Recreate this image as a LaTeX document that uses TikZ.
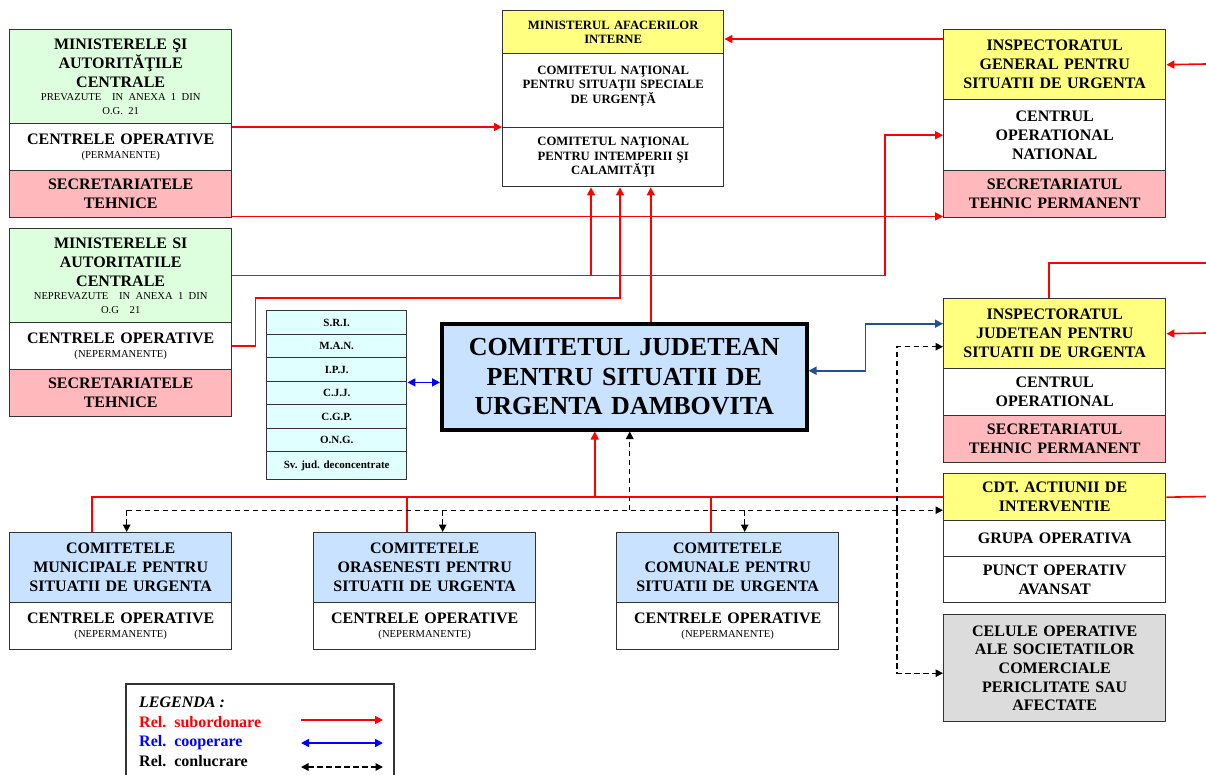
\documentclass[tikz,border=0pt]{standalone}
\usepackage{fontspec}
\setmainfont{Liberation Serif}
\usetikzlibrary{arrows.meta}
\setlength{\parindent}{0pt}
\frenchspacing
\definecolor{grn}{HTML}{DEFFDE}
\definecolor{pnk}{HTML}{FFB9BC}
\definecolor{ylw}{HTML}{FFFF80}
\definecolor{lbl}{HTML}{C8E2FF}
\definecolor{cyn}{HTML}{E0FFFF}
\definecolor{gry}{HTML}{DCDCDC}
\definecolor{dkblue}{HTML}{23508F}
\newcommand{\subnote}[1]{\par{\normalfont\fontsize{10.6}{13.5}\selectfont #1\par}}

\begin{document}
\begin{tikzpicture}[x=1pt,y=-1pt,
    >={Triangle[length=8pt,width=8pt]},
    cell/.style={draw=black!80, line width=1.4pt, anchor=north west, inner sep=0pt,
      align=center, text width=212pt, minimum width=222pt,
      font=\bfseries\fontsize{16}{19}\selectfont},
    smallcell/.style={cell, font=\bfseries\fontsize{12.7}{14.5}\selectfont, minimum width=221pt},
    listcell/.style={cell, fill=cyn, text width=134pt, minimum width=140pt,
      font=\bfseries\fontsize{11}{13}\selectfont},
    rel/.style={draw=red, line width=1.6pt},
    sub/.style={rel, ->},
    coop/.style={draw=blue, line width=1.6pt, <->},
    conl/.style={draw=black, line width=1.4pt, dash pattern=on 5.5pt off 3.5pt,
      >={Triangle[length=7.5pt,width=7.5pt]}}]
  \useasboundingbox (0,0) rectangle (1206,775);

  % left column
  \node[cell, fill=grn, minimum height=94pt] (minA) at (9,29)
    {MINISTERELE ŞI\\ AUTORITĂŢILE\\ CENTRALE\subnote{PREVAZUTE\ \ IN ANEXA 1 DIN\\ O.G. 21}};
  \node[cell, fill=white, minimum height=47pt] (copA) at (9,123)
    {CENTRELE OPERATIVE\subnote{(PERMANENTE)}};
  \node[cell, fill=pnk, minimum height=47pt] (secA) at (9,170) {SECRETARIATELE\\ TEHNICE};

  \node[cell, fill=grn, minimum height=94pt] (minB) at (9,228)
    {MINISTERELE SI\\ AUTORITATILE\\ CENTRALE\subnote{NEPREVAZUTE\ \ IN ANEXA 1 DIN\\ O.G\ \ 21}};
  \node[cell, fill=white, minimum height=47pt] (copB) at (9,322)
    {CENTRELE OPERATIVE\subnote{(NEPERMANENTE)}};
  \node[cell, fill=pnk, minimum height=47pt] (secB) at (9,369) {SECRETARIATELE\\ TEHNICE};

  % ministerul
  \node[smallcell, fill=ylw, minimum height=43pt] (mai) at (502,10) {MINISTERUL AFACERILOR\\ INTERNE};
  \node[smallcell, fill=white, minimum height=74pt] (cnsu) at (502,53)
    {COMITETUL NAŢIONAL\\ PENTRU SITUAŢII SPECIALE\\ DE URGENŢĂ\par\vspace{10pt}\hrule height0pt width0pt};
  \node[smallcell, fill=white, minimum height=59pt] (cnic) at (502,127)
    {COMITETUL NAŢIONAL\\ PENTRU INTEMPERII ŞI\\ CALAMITĂŢI};

  % inspectoratul general
  \node[cell, fill=ylw, minimum height=70pt] (igsu) at (943,29) {INSPECTORATUL\\ GENERAL PENTRU\\ SITUATII DE URGENTA};
  \node[cell, fill=white, minimum height=71pt] (con) at (943,99) {CENTRUL\\ OPERATIONAL\\ NATIONAL};
  \node[cell, fill=pnk, minimum height=47pt] (stpD) at (943,170) {SECRETARIATUL\\ TEHNIC PERMANENT};

  % servicii
  \node[listcell, minimum height=24pt] (sri) at (266,310) {S.R.I.};
  \node[listcell, minimum height=23pt] (man) at (266,334) {M.A.N.};
  \node[listcell, minimum height=24pt] (ipj) at (266,357) {I.P.J.};
  \node[listcell, minimum height=23pt] (cjj) at (266,381) {C.J.J.};
  \node[listcell, minimum height=24pt] (cgp) at (266,404) {C.G.P.};
  \node[listcell, minimum height=23pt] (ong) at (266,428) {O.N.G.};
  \node[listcell, minimum height=28pt] (svj) at (266,451) {Sv. jud. deconcentrate};

  % comitetul judetean
  \node[cell, fill=lbl, line width=3.5pt, draw=black, minimum width=365pt, minimum height=106pt,
    text width=350pt, font=\bfseries\fontsize{26}{29.5}\selectfont] (cjsu) at (440,322)
    {COMITETUL JUDETEAN\\ PENTRU SITUATII DE\\ URGENTA DAMBOVITA};

  % inspectoratul judetean
  \node[cell, fill=ylw, minimum height=70pt] (isu) at (943,298) {INSPECTORATUL\\ JUDETEAN PENTRU\\ SITUATII DE URGENTA};
  \node[cell, fill=white, minimum height=47pt] (coF) at (943,368) {CENTRUL\\ OPERATIONAL};
  \node[cell, fill=pnk, minimum height=47pt] (stpF) at (943,415) {SECRETARIATUL\\ TEHNIC PERMANENT};

  \node[cell, fill=ylw, minimum height=47pt] (cdt) at (943,473) {CDT. ACTIUNII DE\\ INTERVENTIE};
  \node[cell, fill=white, minimum height=36pt] (grupa) at (943,520) {GRUPA OPERATIVA};
  \node[cell, fill=white, minimum height=46pt] (punct) at (943,556) {PUNCT OPERATIV\\ AVANSAT};
  \node[cell, fill=gry, minimum height=107pt, font=\bfseries\fontsize{16}{18.7}\selectfont] (celule) at (943,614)
    {CELULE OPERATIVE\\ ALE SOCIETATILOR\\ COMERCIALE\\ PERICLITATE SAU\\ AFECTATE};

  % comitete locale
  \node[cell, fill=lbl, minimum height=70pt] (cm) at (9,532) {COMITETELE\\ MUNICIPALE PENTRU\\ SITUATII DE URGENTA};
  \node[cell, fill=white, minimum height=47pt] (cmop) at (9,602) {CENTRELE OPERATIVE\subnote{(NEPERMANENTE)}};
  \node[cell, fill=lbl, minimum height=70pt] (co) at (313,532) {COMITETELE\\ ORASENESTI PENTRU\\ SITUATII DE URGENTA};
  \node[cell, fill=white, minimum height=47pt] (coop) at (313,602) {CENTRELE OPERATIVE\subnote{(NEPERMANENTE)}};
  \node[cell, fill=lbl, minimum height=70pt] (cc) at (616,532) {COMITETELE\\ COMUNALE PENTRU\\ SITUATII DE URGENTA};
  \node[cell, fill=white, minimum height=47pt] (ccop) at (616,602) {CENTRELE OPERATIVE\subnote{(NEPERMANENTE)}};

  % edge points
  \coordinate (r1) at (1206,64);
  \coordinate (r2) at (1206,263);
  \coordinate (r3) at (1206,333);
  \coordinate (r4) at (1206,496.5);
  \coordinate (j1) at (591,275);
  \coordinate (j2) at (620,298);
  \coordinate (d) at ([yshift=-13pt]cdt.west);
  \coordinate (v) at ([xshift=-46pt]d);

  % subordonare
  \draw[sub] (copA.east |- cnic.north west) -- (cnic.north west);
  \draw[sub] ([yshift=2pt]secA.south east) -- ([yshift=2pt]secA.south east -| stpD.west);
  \draw[sub] (minB.east) -| ([xshift=-58pt]con.west) -- (con.west);
  \draw[sub] (j1) -- (j1 |- cnic.south);
  \draw[sub] (copB.east) -- ++(23,0) |- (j2) -- (j2 |- cnic.south);
  \draw[sub] ([xshift=26.5pt]cjsu.north) -- ([xshift=26.5pt]cjsu.north |- cnic.south);
  \draw[sub] ([yshift=-10pt]igsu.north west) -- ([yshift=-10pt]igsu.north west -| mai.east);
  \draw[sub] (r1) -- (igsu.east);
  \draw[rel] ([xshift=-6pt]isu.north) |- (r2);
  \draw[sub] (r3) -- (isu.east);
  \draw[rel] ([xshift=-29pt]cm.north) |- (cdt.west);
  \draw[rel] ([xshift=-18pt]co.north) -- ([xshift=-18pt]co.north |- cdt.west);
  \draw[rel] ([xshift=-17pt]cc.north) -- ([xshift=-17pt]cc.north |- cdt.west);
  \draw[sub] ([xshift=-29.5pt]cjsu.south |- cdt.west) -- ([xshift=-29.5pt]cjsu.south);
  \draw[rel] (cdt.east) -- (r4);

  % cooperare
  \draw[coop] (ipj.south east) -- (ipj.south east -| cjsu.west);
  \draw[coop, draw=dkblue, line width=1.8pt] ([yshift=6pt]cjsu.east) -- ++(57,0) |- ([yshift=10pt]isu.west);

  % conlucrare
  \draw[conl, ->] ([xshift=6pt]cm.north |- d) -- (d);
  \draw[conl, ->] ([xshift=6pt]cm.north |- d) -- ([xshift=6pt]cm.north);
  \draw[conl, ->] ([xshift=18pt]co.north |- d) -- ([xshift=18pt]co.north);
  \draw[conl, ->] ([xshift=17pt]cc.north |- d) -- ([xshift=17pt]cc.north);
  \draw[conl, ->] ([xshift=5.5pt]cjsu.south |- d) -- ([xshift=5.5pt]cjsu.south);
  \draw[conl, ->] (v) |- ([yshift=-13pt]isu.west);
  \draw[conl, ->] (v) |- ([yshift=-5pt]celule.west);

  % legenda
  \draw[draw=black!80, line width=1.4pt] (126,775) |- (394,684) -- (394,775);
  \begin{scope}[every node/.style={anchor=base west, inner sep=0pt, font=\bfseries\fontsize{16}{19}\selectfont}]
    \node (leg) at (139,707) {\itshape LEGENDA :};
    \node[text=red] (lsub) at (139,727) {Rel.\ \ subordonare};
    \node[text=blue] (lcoop) at (139,746) {Rel.\ \ cooperare};
    \node (lconl) at (139,766) {Rel.\ \ conlucrare};
  \end{scope}
  \coordinate (l1a) at (301,720);
  \coordinate (l1b) at (383,720);
  \coordinate (l2a) at (301,743);
  \coordinate (l2b) at (383,743);
  \coordinate (l3a) at (301,767);
  \coordinate (l3b) at (383,767);
  \draw[sub] (l1a) -- (l1b);
  \draw[coop] (l2a) -- (l2b);
  \draw[conl, <->] (l3a) -- (l3b);
\end{tikzpicture}
\end{document}
